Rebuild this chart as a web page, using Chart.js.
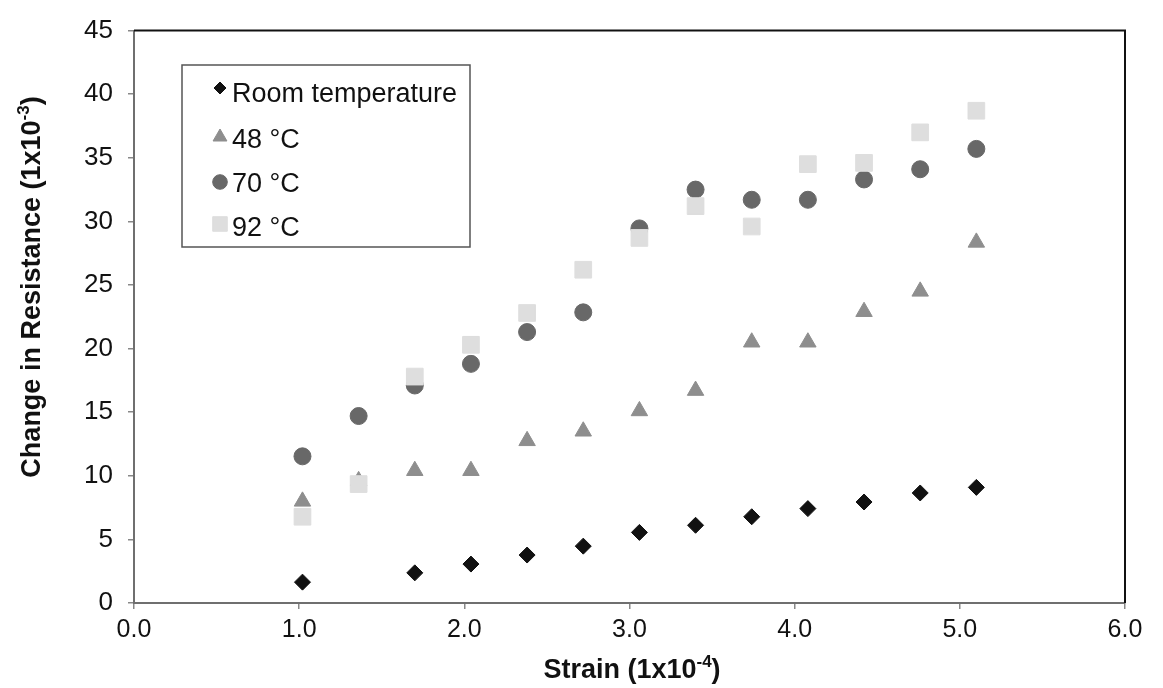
<!DOCTYPE html>
<html>
<head>
<meta charset="utf-8">
<script src="https://cdn.jsdelivr.net/npm/chart.js@4.4.0/dist/chart.umd.min.js"></script>
<style>
  html, body { margin: 0; padding: 0; background: #fff; }
  #wrap { width: 1163px; height: 688px; }
</style>
</head>
<body>
<div id="wrap"><canvas id="chart" width="1163" height="688"></canvas></div>
<script>
// strain values (1x10^-4)
const strain = [1.02, 1.36, 1.70, 2.04, 2.38, 2.72, 3.06, 3.40, 3.74, 4.08, 4.42, 4.76, 5.10];

// change in resistance (1x10^-3)
const roomTemp = [1.64, null, 2.37, 3.06, 3.77, 4.47, 5.55, 6.11, 6.78, 7.42, 7.94, 8.65, 9.09];
const temp48   = [7.99, 9.6, 10.4, 10.4, 12.75, 13.5, 15.1, 16.7, 20.5, 20.5, 22.9, 24.5, 28.35];
const temp70   = [11.53, 14.7, 17.1, 18.8, 21.3, 22.85, 29.45, 32.5, 31.7, 31.7, 33.3, 34.1, 35.7];
const temp92   = [6.78, 9.35, 17.8, 20.3, 22.8, 26.2, 28.7, 31.2, 29.6, 34.5, 34.6, 37.0, 38.7];

const seriesNames = ["Room temperature", "48 °C", "70 °C", "92 °C"];
const xTicks = [0, 1, 2, 3, 4, 5, 6];
const yTicks = [0, 5, 10, 15, 20, 25, 30, 35, 40, 45];

const FONT = '"Liberation Sans", Arial, Helvetica, sans-serif';

function pts(ys) {
  return strain.map((x, i) => ({ x: x, y: ys[i] })).filter(p => p.y !== null);
}

const datasets = [
  { label: seriesNames[0], data: pts(roomTemp), pointStyle: "rectRot", pointRadius: 8,
    backgroundColor: "#111111", borderColor: "#111111", order: 3 },
  { label: seriesNames[1], data: pts(temp48), pointStyle: "triangle", pointRadius: 9.5,
    backgroundColor: "#8e8e8e", borderColor: "#8e8e8e", order: 2 },
  { label: seriesNames[2], data: pts(temp70), pointStyle: "circle", pointRadius: 8.5,
    backgroundColor: "#686868", borderColor: "#686868", order: 1 },
  { label: seriesNames[3], data: pts(temp92), pointStyle: "rect", pointRadius: 11.8,
    backgroundColor: "#dedede", borderColor: "#dedede", order: 0 }
];
datasets.forEach(d => { d.pointBorderWidth = 1; d.showLine = false; });

// text with a small raised part, e.g. 10^-3
function drawSupText(ctx, parts, x, y, align) {
  const main = "bold 27px " + FONT;
  const sup  = "bold 17px " + FONT;
  ctx.font = main;
  const w0 = ctx.measureText(parts[0]).width;
  const w2 = ctx.measureText(parts[2]).width;
  ctx.font = sup;
  const w1 = ctx.measureText(parts[1]).width;
  const total = w0 + w1 + w2;
  let sx = align === "center" ? x - total / 2 : x;
  ctx.textAlign = "left";
  ctx.textBaseline = "alphabetic";
  ctx.font = main;
  ctx.fillText(parts[0], sx, y);
  ctx.font = sup;
  ctx.fillText(parts[1], sx + w0, y - 11);
  ctx.font = main;
  ctx.fillText(parts[2], sx + w0 + w1, y);
}

const extras = {
  id: "extras",
  afterDraw(chart) {
    const ctx = chart.ctx;
    const a = chart.chartArea;
    ctx.save();

    // top and right frame
    ctx.strokeStyle = "#111";
    ctx.lineWidth = 2;
    ctx.beginPath();
    ctx.moveTo(a.left, a.top);
    ctx.lineTo(a.right, a.top);
    ctx.lineTo(a.right, a.bottom);
    ctx.stroke();

    // axis titles
    ctx.fillStyle = "#111";
    drawSupText(ctx, ["Strain (1x10", "-4", ")"], 632, 678, "center");
    ctx.save();
    ctx.translate(40, 287);
    ctx.rotate(-Math.PI / 2);
    drawSupText(ctx, ["Change in Resistance (1x10", "-3", ")"], 0, 0, "center");
    ctx.restore();

    // legend box
    ctx.fillStyle = "#fff";
    ctx.fillRect(182, 65, 288, 182);
    ctx.strokeStyle = "#555";
    ctx.lineWidth = 1.5;
    ctx.strokeRect(182, 65, 288, 182);

    const rows = [
      { my: 88, ty: 102, r: 6 },
      { my: 137, ty: 148, r: 8 },
      { my: 182, ty: 192, r: 7.3 },
      { my: 224, ty: 236, r: 10.3 }
    ];
    chart.data.datasets.forEach((d, i) => {
      const row = rows[i];
      ctx.fillStyle = d.backgroundColor;
      ctx.strokeStyle = d.borderColor;
      ctx.lineWidth = 1;
      Chart.helpers.drawPoint(ctx, { pointStyle: d.pointStyle, radius: row.r, rotation: 0, borderWidth: 1 }, 220, row.my);
      ctx.fillStyle = "#111";
      ctx.font = "27px " + FONT;
      ctx.textAlign = "left";
      ctx.textBaseline = "alphabetic";
      ctx.fillText(d.label, 232, row.ty);
    });

    ctx.restore();
  }
};

new Chart(document.getElementById("chart"), {
  type: "scatter",
  data: { datasets: datasets },
  plugins: [extras],
  options: {
    responsive: false,
    animation: false,
    layout: { padding: { top: 19, right: 38, left: 0, bottom: 0 } },
    plugins: {
      legend: { display: false },
      tooltip: { enabled: false }
    },
    scales: {
      x: {
        type: "linear",
        min: 0, max: 6,
        afterBuildTicks: s => { s.ticks = xTicks.map(v => ({ value: v })); },
        afterFit: s => { s.height = 85; },
        grid: { drawOnChartArea: false, drawTicks: true, tickLength: 6, color: "#888", lineWidth: 1.5 },
        border: { display: true, color: "#6f6f6f", width: 2 },
        ticks: {
          padding: 6,
          color: "#111",
          font: { family: FONT, size: 25 },
          maxRotation: 0,
          callback: v => Number(v).toFixed(1)
        }
      },
      y: {
        type: "linear",
        min: 0, max: 45,
        afterBuildTicks: s => { s.ticks = yTicks.map(v => ({ value: v })); },
        afterFit: s => { s.width = 134; },
        grid: { drawOnChartArea: false, drawTicks: true, tickLength: 6, color: "#888", lineWidth: 1.5 },
        border: { display: true, color: "#6f6f6f", width: 2 },
        ticks: {
          padding: 15,
          color: "#111",
          font: { family: FONT, size: 26 },
          callback: v => String(v)
        }
      }
    }
  }
});
</script>
</body>
</html>
